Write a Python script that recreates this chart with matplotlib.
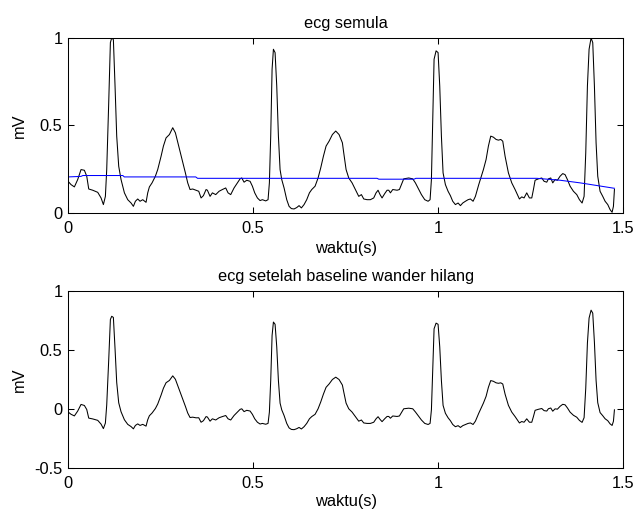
import numpy as np
import matplotlib
matplotlib.use("Agg")
import matplotlib.pyplot as plt
from matplotlib.ticker import FormatStrFormatter

plt.rcParams['font.family'] = ['Liberation Sans', 'DejaVu Sans']

# sinyal ecg semula
t_ecg = [0.0, 0.0081, 0.0171, 0.0261, 0.0351, 0.0441, 0.0505, 0.0559, 0.0667, 0.0802,
         0.0892, 0.0955, 0.1009, 0.1045, 0.1099, 0.1144, 0.1180, 0.1225, 0.1270, 0.1315,
         0.1369, 0.1432, 0.1523, 0.1613, 0.1703, 0.1766, 0.1820, 0.1883, 0.1946, 0.2018,
         0.2108, 0.2153, 0.2198, 0.2270, 0.2360, 0.2423, 0.2514, 0.2577, 0.2649, 0.2739,
         0.2829, 0.2901, 0.2991, 0.3081, 0.3171, 0.3234, 0.3297, 0.3369, 0.3459, 0.3532,
         0.3595, 0.3658, 0.3730,
         0.3766, 0.3838, 0.3901, 0.3991, 0.4081, 0.4171, 0.4261, 0.4324, 0.4396, 0.4486,
         0.4577, 0.4649, 0.4694, 0.4757, 0.4829, 0.4919, 0.4982, 0.5045, 0.5117, 0.5189,
         0.5252, 0.5342, 0.5405, 0.5441, 0.5477, 0.5514, 0.5550, 0.5595, 0.5640, 0.5685,
         0.5730, 0.5775, 0.5838, 0.5910, 0.5973, 0.6036, 0.6108, 0.6180, 0.6243, 0.6306,
         0.6378, 0.6450, 0.6523, 0.6586, 0.6676, 0.6757, 0.6829, 0.6901, 0.6973, 0.7054,
         0.7144, 0.7234, 0.7324, 0.7414,
         0.7450, 0.7514, 0.7586, 0.7676, 0.7766, 0.7856, 0.7928, 0.7991, 0.8081, 0.8171,
         0.8261, 0.8324, 0.8378, 0.8432, 0.8486, 0.8559, 0.8622, 0.8667, 0.8712, 0.8775,
         0.8892, 0.8955, 0.9027, 0.9072, 0.9207, 0.9315, 0.9387, 0.9459, 0.9550, 0.9640,
         0.9730, 0.9784, 0.9820, 0.9856, 0.9892, 0.9946, 1.0000, 1.0045, 1.0090, 1.0135,
         1.0198, 1.0270, 1.0333, 1.0396, 1.0468, 1.0541, 1.0604, 1.0667, 1.0739, 1.0811,
         1.0874, 1.0946, 1.1009, 1.1099,
         1.1225, 1.1297, 1.1360, 1.1423, 1.1495, 1.1568, 1.1631, 1.1694, 1.1748, 1.1811,
         1.1901, 1.1991, 1.2081, 1.2144, 1.2198, 1.2261, 1.2324, 1.2396, 1.2468, 1.2532,
         1.2577, 1.2622, 1.2712, 1.2802, 1.2865, 1.2937, 1.2982, 1.3045, 1.3099, 1.3162,
         1.3225, 1.3297, 1.3369, 1.3432, 1.3495, 1.3568, 1.3658, 1.3748, 1.3820, 1.3892,
         1.3946, 1.3991, 1.4036, 1.4081, 1.4135, 1.4180, 1.4225, 1.4270, 1.4315, 1.4378,
         1.4450, 1.4514, 1.4586, 1.4649, 1.4703, 1.4739, 1.4766]
ecg = [0.181, 0.162, 0.149, 0.191, 0.248, 0.244, 0.210, 0.137, 0.130, 0.118,
       0.086, 0.048, 0.095, 0.248, 0.630, 0.973, 1.000, 0.990, 0.725, 0.439,
       0.267, 0.191, 0.115, 0.076, 0.057, 0.038, 0.067, 0.080, 0.067, 0.076,
       0.061, 0.115, 0.149, 0.172, 0.210, 0.248, 0.324, 0.382, 0.429, 0.448,
       0.487, 0.458, 0.382, 0.305, 0.229, 0.172, 0.134, 0.137, 0.130, 0.124,
       0.086, 0.099, 0.134,
       0.130, 0.095, 0.115, 0.105, 0.124, 0.134, 0.143, 0.115, 0.105, 0.143,
       0.172, 0.195, 0.200, 0.176, 0.187, 0.181, 0.153, 0.115, 0.086, 0.071,
       0.076, 0.069, 0.076, 0.172, 0.439, 0.821, 0.935, 0.916, 0.725, 0.439,
       0.248, 0.191, 0.143, 0.076, 0.038, 0.025, 0.023, 0.031, 0.042, 0.029,
       0.048, 0.076, 0.115, 0.134, 0.153, 0.200, 0.258, 0.324, 0.382, 0.410,
       0.448, 0.468, 0.448, 0.401,
       0.344, 0.248, 0.200, 0.172, 0.134, 0.095, 0.105, 0.080, 0.076, 0.076,
       0.086, 0.115, 0.130, 0.105, 0.086, 0.111, 0.130, 0.130, 0.115, 0.134,
       0.130, 0.134, 0.172, 0.195, 0.200, 0.195, 0.172, 0.143, 0.105, 0.076,
       0.067, 0.076, 0.191, 0.534, 0.878, 0.926, 0.916, 0.725, 0.439, 0.229,
       0.162, 0.124, 0.099, 0.067, 0.048, 0.057, 0.042, 0.057, 0.067, 0.076,
       0.080, 0.067, 0.095, 0.162,
       0.248, 0.305, 0.382, 0.439, 0.433, 0.420, 0.416, 0.420, 0.410, 0.324,
       0.229, 0.172, 0.134, 0.105, 0.080, 0.092, 0.086, 0.115, 0.086, 0.086,
       0.134, 0.187, 0.195, 0.200, 0.181, 0.176, 0.195, 0.200, 0.172, 0.191,
       0.187, 0.210, 0.225, 0.219, 0.191, 0.153, 0.124, 0.105, 0.076, 0.057,
       0.095, 0.344, 0.725, 0.935, 1.000, 0.973, 0.725, 0.401, 0.210, 0.124,
       0.095, 0.067, 0.048, 0.019, 0.004, 0.038, 0.134]

# baseline wander (garis biru)
t_base = [0.0, 0.035, 0.040, 0.148, 0.152, 0.345, 0.350, 0.835, 0.840, 0.935,
          0.940, 1.267, 1.330, 1.384, 1.429, 1.4766]
base = [0.206, 0.209, 0.214, 0.214, 0.206, 0.206, 0.198, 0.198, 0.193, 0.193,
        0.198, 0.198, 0.187, 0.172, 0.157, 0.141]

t_ecg = np.array(t_ecg)
ecg = np.array(ecg)
# ecg setelah baseline dihilangkan
ecg_bersih = ecg - np.interp(t_ecg, t_base, base)

fig = plt.figure(figsize=(6.36, 5.12), dpi=100)
ax1 = fig.add_axes([0.107, 0.584, 0.8727, 0.342])
ax2 = fig.add_axes([0.107, 0.0859, 0.8727, 0.3457])

fs = 11.8
ax1.plot(t_ecg, ecg, color='black', lw=0.75)
ax1.plot(t_base, base, color='blue', lw=0.75)
ax1.set_ylim(0, 1)
ax1.set_yticks([0, 0.5, 1])
ax1.set_title('ecg semula', fontsize=fs, pad=7)

ax2.plot(t_ecg, ecg_bersih, color='black', lw=0.75)
ax2.set_ylim(-0.5, 1)
ax2.set_yticks([-0.5, 0, 0.5, 1])
ax2.set_title('ecg setelah baseline wander hilang', fontsize=fs, pad=7)

for ax in (ax1, ax2):
    ax.set_xlim(0, 1.5)
    ax.set_xticks([0, 0.5, 1, 1.5])
    ax.xaxis.set_major_formatter(FormatStrFormatter('%g'))
    ax.yaxis.set_major_formatter(FormatStrFormatter('%g'))
    ax.tick_params(direction='in', top=True, right=True, length=4, width=0.75,
                   labelsize=fs, pad=4)
    ax.tick_params(axis='x', pad=5.5)
    for s in ax.spines.values():
        s.set_linewidth(0.75)
    ax.set_xlabel('waktu(s)', fontsize=fs)
    ax.set_ylabel('mV', fontsize=fs)
    ax.yaxis.set_label_coords(-0.075, 0.5)

ax1.xaxis.set_label_coords(0.5, -0.16)
ax2.xaxis.set_label_coords(0.5, -0.145)

fig.savefig('out.png', dpi=100)
